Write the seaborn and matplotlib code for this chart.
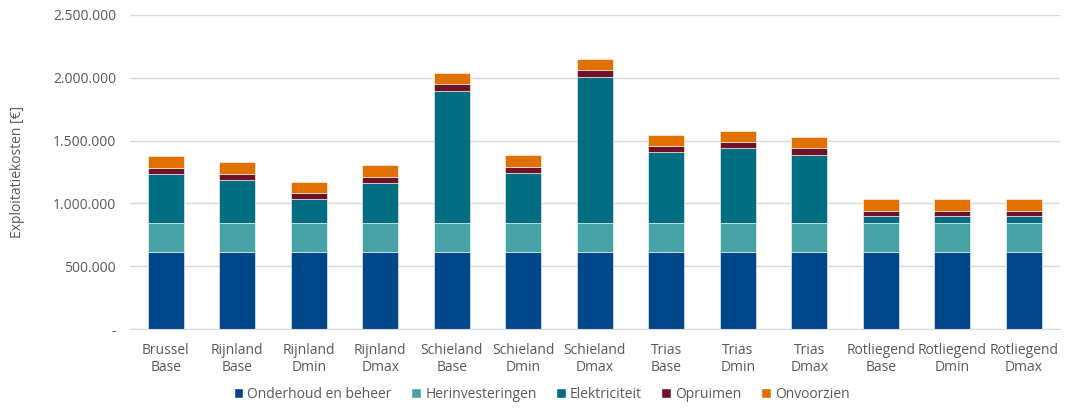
import matplotlib
matplotlib.use('Agg')
import matplotlib.pyplot as plt
from matplotlib.ticker import FuncFormatter
from matplotlib.patches import Patch
import numpy as np
import pandas as pd
import seaborn as sns

categories = ['Brussel\nBase', 'Rijnland\nBase', 'Rijnland\nDmin', 'Rijnland\nDmax',
              'Schieland\nBase', 'Schieland\nDmin', 'Schieland\nDmax',
              'Trias\nBase', 'Trias\nDmin', 'Trias\nDmax',
              'Rotliegend\nBase', 'Rotliegend\nDmin', 'Rotliegend\nDmax']

onderhoud = [615000] * 13
herinvesteringen = [230000] * 13
elektriciteit = [392000, 340000, 189000, 318000, 1051000, 401000, 1162000,
                 563000, 595000, 541000, 53000, 53000, 53000]
opruimen = [48000, 52000, 52000, 51000, 50000, 47000, 51000,
            48000, 47000, 51000, 45000, 45000, 45000]
onvoorzien = [91000, 91000, 88000, 93000, 91000, 93000, 90000,
              90000, 90000, 90000, 93000, 93000, 93000]

series = ['Onderhoud en beheer', 'Herinvesteringen', 'Elektriciteit', 'Opruimen', 'Onvoorzien']
colors = ['#00478A', '#46A2A4', '#006E80', '#6F1229', '#E07000']

df = pd.DataFrame({'categorie': categories,
                   'Onderhoud en beheer': onderhoud,
                   'Herinvesteringen': herinvesteringen,
                   'Elektriciteit': elektriciteit,
                   'Opruimen': opruimen,
                   'Onvoorzien': onvoorzien})

sns.set_style('white')
plt.rcParams['font.family'] = ['Open Sans', 'DejaVu Sans']

fig = plt.figure(figsize=(10.66, 4.12), dpi=100)
ax = fig.add_axes([0.122, 0.201, 0.872, 0.763])

# stacked bars, one seaborn call per layer
bottom = np.zeros(len(categories))
for name, col in zip(series, colors):
    sns.barplot(data=df, x='categorie', y=name, color=col, bottom=bottom,
                width=0.5, edgecolor='white', linewidth=0.4, saturation=1, ax=ax)
    bottom += df[name].values

ax.set_ylim(0, 2500000)
ax.set_yticks(np.arange(0, 2500001, 500000))
ax.yaxis.set_major_formatter(FuncFormatter(
    lambda v, p: '-' if v == 0 else f'{int(v):,}'.replace(',', '.')))
ax.grid(axis='y', color='#D9D9D9', linewidth=1)
ax.set_axisbelow(True)
for s in ['top', 'right', 'left']:
    ax.spines[s].set_visible(False)
ax.spines['bottom'].set_color('#D9D9D9')
ax.tick_params(axis='both', length=0, labelsize=10, colors='#595959', pad=10)
ax.set_xlabel('')
ax.set_ylabel('Exploitatiekosten [€]', fontsize=10, color='#595959', labelpad=20)
ax.set_xlim(-0.5, len(categories) - 0.5)

handles = [Patch(facecolor=c, label=n) for n, c in zip(series, colors)]
fig.legend(handles=handles, loc='lower center', bbox_to_anchor=(0.508, -0.005), ncol=5,
           frameon=False, fontsize=10, handlelength=0.7, handleheight=0.7,
           handletextpad=0.3, columnspacing=1.4, labelcolor='#595959')

fig.savefig('out.png', dpi=100)
